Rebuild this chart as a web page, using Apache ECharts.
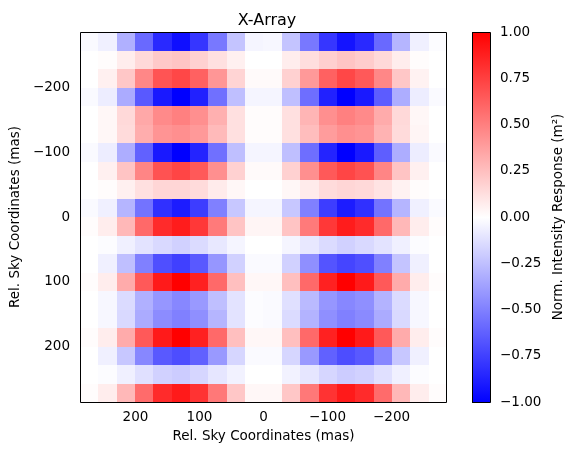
<!DOCTYPE html>
<html>
<head>
<meta charset="utf-8">
<title>X-Array</title>
<script src="https://cdn.jsdelivr.net/npm/echarts@6.0.0/dist/echarts.min.js"></script>
<style>
  html, body { margin: 0; padding: 0; background: #fff; }
  #chart { width: 579px; height: 455px; }
</style>
</head>
<body>
<div id="chart"></div>
<script>
// image half width in mas, 20 x 20 pixels
const extent = 286.67;
const nCells = 20;
const xTicks = [200, 100, 0, -100, -200];
const yTicks = [-200, -100, 0, 100, 200];

// normalised response, one row per image row (top row first, left column first)
const response = [
  [-0.02, -0.06, -0.31, -0.59, -0.84, -0.94, -0.79, -0.53, -0.23, -0.04, -0.03, -0.23, -0.53, -0.79, -0.92, -0.84, -0.59, -0.29, -0.06, -0.01],
  [0, 0.01, 0.07, 0.15, 0.21, 0.23, 0.18, 0.12, 0.06, 0, 0, 0.07, 0.13, 0.19, 0.23, 0.2, 0.15, 0.07, 0.01, 0],
  [0, 0.06, 0.22, 0.47, 0.67, 0.72, 0.62, 0.41, 0.17, 0.02, 0.02, 0.18, 0.4, 0.62, 0.72, 0.65, 0.47, 0.22, 0.05, 0],
  [-0.02, -0.07, -0.33, -0.65, -0.9, -1, -0.87, -0.56, -0.25, -0.04, -0.04, -0.25, -0.57, -0.87, -1, -0.9, -0.64, -0.32, -0.07, -0.02],
  [0, 0.03, 0.15, 0.34, 0.46, 0.5, 0.44, 0.31, 0.12, 0.01, 0.01, 0.12, 0.29, 0.44, 0.5, 0.46, 0.33, 0.15, 0.03, 0],
  [0, 0.03, 0.14, 0.32, 0.42, 0.44, 0.4, 0.27, 0.12, 0.01, 0.01, 0.12, 0.26, 0.39, 0.44, 0.42, 0.3, 0.14, 0.04, 0],
  [-0.02, -0.07, -0.32, -0.62, -0.9, -1, -0.86, -0.56, -0.25, -0.04, -0.04, -0.25, -0.57, -0.86, -1, -0.9, -0.63, -0.32, -0.07, -0.02],
  [0, 0.06, 0.23, 0.48, 0.68, 0.73, 0.65, 0.44, 0.18, 0.02, 0.02, 0.18, 0.44, 0.65, 0.73, 0.68, 0.48, 0.23, 0.06, 0],
  [0, 0.01, 0.06, 0.12, 0.16, 0.16, 0.14, 0.08, 0.03, 0, 0, 0.03, 0.08, 0.14, 0.16, 0.15, 0.11, 0.05, 0.01, 0],
  [-0.02, -0.06, -0.29, -0.55, -0.81, -0.89, -0.76, -0.5, -0.22, -0.04, -0.04, -0.22, -0.5, -0.76, -0.89, -0.81, -0.55, -0.29, -0.06, -0.02],
  [0.01, 0.07, 0.28, 0.59, 0.83, 0.89, 0.78, 0.52, 0.23, 0.04, 0.04, 0.23, 0.52, 0.78, 0.89, 0.83, 0.59, 0.28, 0.07, 0.01],
  [0, -0.01, -0.06, -0.11, -0.15, -0.18, -0.14, -0.09, -0.04, 0, 0, -0.04, -0.09, -0.14, -0.18, -0.15, -0.11, -0.06, -0.01, 0],
  [0, -0.06, -0.25, -0.5, -0.69, -0.75, -0.65, -0.41, -0.18, -0.02, -0.02, -0.18, -0.44, -0.67, -0.73, -0.69, -0.5, -0.23, -0.06, 0],
  [0.01, 0.07, 0.33, 0.65, 0.9, 1, 0.87, 0.59, 0.25, 0.03, 0.03, 0.25, 0.59, 0.87, 1, 0.9, 0.65, 0.33, 0.07, 0.01],
  [0, -0.03, -0.14, -0.31, -0.41, -0.47, -0.4, -0.25, -0.11, -0.01, -0.02, -0.12, -0.27, -0.41, -0.47, -0.44, -0.3, -0.14, -0.03, 0],
  [0, -0.03, -0.15, -0.33, -0.45, -0.5, -0.44, -0.29, -0.11, -0.01, -0.02, -0.14, -0.3, -0.44, -0.5, -0.46, -0.33, -0.15, -0.03, 0],
  [0.01, 0.07, 0.33, 0.65, 0.9, 1, 0.87, 0.59, 0.25, 0.03, 0.03, 0.25, 0.59, 0.87, 1, 0.9, 0.65, 0.33, 0.07, 0.01],
  [0, -0.06, -0.22, -0.47, -0.65, -0.7, -0.62, -0.4, -0.16, -0.02, -0.02, -0.16, -0.4, -0.62, -0.7, -0.65, -0.47, -0.22, -0.06, 0],
  [0, -0.01, -0.06, -0.12, -0.18, -0.2, -0.16, -0.1, -0.05, 0, 0, -0.05, -0.1, -0.16, -0.2, -0.18, -0.12, -0.06, -0.01, 0],
  [0.01, 0.07, 0.28, 0.58, 0.83, 0.9, 0.8, 0.53, 0.22, 0.03, 0.03, 0.22, 0.53, 0.8, 0.9, 0.83, 0.58, 0.28, 0.07, 0.01]
];

const FONT = 'DejaVu Sans';
const FS = 13.5;
const cell = 2 * extent / nCells;

// x axis is flipped (east to the left), y runs down
const heatData = [];
response.forEach((row, r) => {
  row.forEach((v, c) => {
    heatData.push([extent - (c + 0.5) * cell, -extent + (r + 0.5) * cell, v]);
  });
});

function fmtMinus(v) {
  return v < 0 ? '\u2212' + String(-v) : String(v);
}

const chart = echarts.init(document.getElementById('chart'));

const option = {
  animation: false,
  backgroundColor: '#fff',
  title: {
    text: 'X-Array',
    left: 262,
    top: 8,
    textAlign: 'center',
    textStyle: { fontFamily: FONT, fontSize: 16, fontWeight: 'normal', color: '#000' }
  },
  grid: [
    { left: 77, top: 32, width: 370, height: 370 },
    { left: 472, top: 32, width: 18, height: 370 } // colorbar
  ],
  xAxis: [
    {
      type: 'value',
      gridIndex: 0,
      min: -extent,
      max: extent,
      inverse: true,
      name: 'Rel. Sky Coordinates (mas)',
      nameLocation: 'middle',
      nameGap: 27,
      nameTextStyle: { fontFamily: FONT, fontSize: FS, color: '#000' },
      axisLine: { show: false },
      axisTick: { customValues: xTicks, length: 4, lineStyle: { color: '#000' } },
      axisLabel: {
        customValues: xTicks,
        formatter: fmtMinus,
        margin: 8,
        fontFamily: FONT,
        fontSize: FS,
        color: '#000'
      },
      splitLine: { show: false }
    },
    {
      type: 'value',
      gridIndex: 1,
      min: 0,
      max: 1,
      show: false
    }
  ],
  yAxis: [
    {
      type: 'value',
      gridIndex: 0,
      min: -extent,
      max: extent,
      inverse: true,
      name: 'Rel. Sky Coordinates (mas)',
      nameLocation: 'middle',
      nameGap: 55,
      nameRotate: 90,
      nameTextStyle: { fontFamily: FONT, fontSize: FS, color: '#000' },
      axisLine: { show: false },
      axisTick: { customValues: yTicks, length: 4, lineStyle: { color: '#000' } },
      axisLabel: {
        customValues: yTicks,
        formatter: fmtMinus,
        margin: 10,
        fontFamily: FONT,
        fontSize: FS,
        color: '#000'
      },
      splitLine: { show: false }
    },
    {
      type: 'value',
      gridIndex: 1,
      position: 'right',
      min: -1,
      max: 1,
      interval: 0.25,
      name: 'Norm. Intensity Response (m\u00b2)',
      nameLocation: 'middle',
      nameGap: 61,
      nameRotate: 90,
      nameTextStyle: { fontFamily: FONT, fontSize: FS, color: '#000' },
      axisLine: { show: false },
      axisTick: { show: true, length: 4, lineStyle: { color: '#000' } },
      axisLabel: {
        formatter: v => (v < 0 ? '\u2212' : '') + Math.abs(v).toFixed(2),
        margin: 10,
        fontFamily: FONT,
        fontSize: FS,
        color: '#000'
      },
      splitLine: { show: false }
    }
  ],
  visualMap: {
    show: false,
    type: 'continuous',
    seriesIndex: 0,
    dimension: 2,
    min: -1,
    max: 1,
    inRange: { color: ['#0000ff', '#ffffff', '#ff0000'] }
  },
  series: [
    {
      name: 'response',
      type: 'custom',
      xAxisIndex: 0,
      yAxisIndex: 0,
      encode: { x: 0, y: 1 },
      data: heatData,
      renderItem: function(params, api) {
        const x = api.value(0);
        const y = api.value(1);
        const a = api.coord([x + cell / 2, y - cell / 2]);
        const b = api.coord([x - cell / 2, y + cell / 2]);
        const x0 = Math.round(Math.min(a[0], b[0]));
        const x1 = Math.round(Math.max(a[0], b[0]));
        const y0 = Math.round(Math.min(a[1], b[1]));
        const y1 = Math.round(Math.max(a[1], b[1]));
        return {
          type: 'rect',
          shape: { x: x0, y: y0, width: x1 - x0, height: y1 - y0 },
          style: { fill: api.visual('color') }
        };
      }
    },
    {
      // frame round the image
      type: 'custom',
      xAxisIndex: 0,
      yAxisIndex: 0,
      z: 5,
      silent: true,
      data: [[0, 0]],
      renderItem: function(params, api) {
        const a = api.coord([extent, -extent]);
        const b = api.coord([-extent, extent]);
        return {
          type: 'rect',
          shape: {
            x: Math.round(a[0]) + 0.5,
            y: Math.round(a[1]) + 0.5,
            width: Math.round(b[0] - a[0]) - 1,
            height: Math.round(b[1] - a[1])
          },
          style: { fill: null, stroke: '#000', lineWidth: 1 }
        };
      }
    },
    {
      // colorbar
      type: 'custom',
      xAxisIndex: 1,
      yAxisIndex: 1,
      silent: true,
      data: [[0, 0]],
      renderItem: function(params, api) {
        const a = api.coord([0, 1]);
        const b = api.coord([1, -1]);
        return {
          type: 'rect',
          shape: {
            x: Math.round(a[0]) + 0.5,
            y: Math.round(a[1]) + 0.5,
            width: Math.round(b[0] - a[0]),
            height: Math.round(b[1] - a[1])
          },
          style: {
            fill: new echarts.graphic.LinearGradient(0, 0, 0, 1, [
              { offset: 0, color: '#ff0000' },
              { offset: 0.5, color: '#ffffff' },
              { offset: 1, color: '#0000ff' }
            ]),
            stroke: '#000',
            lineWidth: 1
          }
        };
      }
    }
  ]
};

chart.setOption(option);
</script>
</body>
</html>
